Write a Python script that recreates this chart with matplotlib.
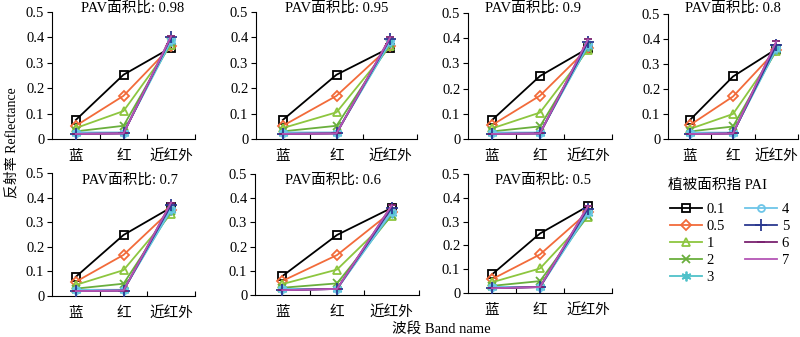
import numpy as np
import matplotlib
matplotlib.use('Agg')
import matplotlib.pyplot as plt

plt.rcParams['font.family'] = ['Liberation Serif', 'Noto Sans CJK SC']
plt.rcParams['axes.unicode_minus'] = False

bands = ['蓝', '红', '近红外']
pav_ratios = ['0.98', '0.95', '0.9', '0.8', '0.7', '0.6', '0.5']
pai_labels = ['0.1', '0.5', '1', '2', '3', '4', '5', '6', '7']

# reflectance per PAV panel, one row per PAI level (blue, red, nir)
refl_098 = [[0.075, 0.253, 0.360], [0.052, 0.170, 0.365], [0.043, 0.110, 0.370],
            [0.030, 0.052, 0.380], [0.025, 0.025, 0.385], [0.025, 0.025, 0.390],
            [0.020, 0.022, 0.400], [0.020, 0.022, 0.405], [0.020, 0.022, 0.405]]
refl_095 = [[0.075, 0.253, 0.360], [0.052, 0.170, 0.365], [0.043, 0.105, 0.365],
            [0.030, 0.052, 0.375], [0.025, 0.025, 0.380], [0.025, 0.025, 0.385],
            [0.020, 0.022, 0.395], [0.020, 0.022, 0.400], [0.020, 0.022, 0.400]]
refl_090 = [[0.075, 0.250, 0.360], [0.055, 0.172, 0.360], [0.042, 0.105, 0.355],
            [0.030, 0.050, 0.365], [0.025, 0.025, 0.370], [0.025, 0.025, 0.375],
            [0.020, 0.022, 0.385], [0.020, 0.022, 0.395], [0.020, 0.022, 0.395]]
refl_080 = [[0.075, 0.250, 0.360], [0.055, 0.170, 0.355], [0.040, 0.100, 0.350],
            [0.030, 0.050, 0.355], [0.025, 0.025, 0.360], [0.025, 0.025, 0.365],
            [0.020, 0.022, 0.375], [0.020, 0.022, 0.390], [0.020, 0.022, 0.390]]
refl_070 = [[0.078, 0.248, 0.360], [0.058, 0.167, 0.350], [0.045, 0.105, 0.335],
            [0.030, 0.050, 0.345], [0.025, 0.025, 0.350], [0.025, 0.025, 0.355],
            [0.020, 0.022, 0.370], [0.020, 0.022, 0.380], [0.020, 0.022, 0.380]]
refl_060 = [[0.078, 0.248, 0.360], [0.058, 0.165, 0.345], [0.045, 0.105, 0.325],
            [0.030, 0.048, 0.330], [0.025, 0.025, 0.340], [0.025, 0.025, 0.345],
            [0.020, 0.025, 0.360], [0.020, 0.025, 0.370], [0.020, 0.025, 0.370]]
refl_050 = [[0.078, 0.250, 0.365], [0.058, 0.162, 0.340], [0.045, 0.103, 0.320],
            [0.030, 0.050, 0.325], [0.025, 0.025, 0.335], [0.025, 0.025, 0.340],
            [0.020, 0.025, 0.355], [0.020, 0.025, 0.365], [0.020, 0.025, 0.365]]
all_refl = [refl_098, refl_095, refl_090, refl_080, refl_070, refl_060, refl_050]

colors = ['#000000', '#F26B3A', '#8DC63F', '#6AAF3D', '#4FC1C9',
          '#6DC5E8', '#2B3990', '#7A2270', '#B455B5']
markers = ['s', 'D', '^', 'x', (6, 2, 0), 'o', '+', '_', 'None']
msizes = [6, 5, 6, 6, 7, 5, 8, 6, 0]

W, H = 800, 337
fig = plt.figure(figsize=(8, 3.37), dpi=100)

# panel boxes in pixels: (left, right, top, bottom)
boxes = [(52, 195, 12, 139), (256, 417, 12, 139), (468, 612, 13, 139), (668, 798, 14, 139),
         (52, 195, 173, 296), (255, 419, 174, 295), (468, 612, 174, 293)]
# title centres in pixels
title_pos = [(133, 8), (337, 8), (533, 8), (733, 8), (130, 180), (333, 180), (543, 180)]

x = np.arange(len(bands))
handles = []
for k, (refl, ratio) in enumerate(zip(all_refl, pav_ratios)):
    l, r, t, b = boxes[k]
    ax = fig.add_axes([l / W, 1 - b / H, (r - l) / W, (b - t) / H])
    for i, row in enumerate(refl):
        ln, = ax.plot(x, row, color=colors[i], marker=markers[i], markersize=msizes[i],
                      markerfacecolor='none', markeredgewidth=1.3, linewidth=1.3,
                      label=pai_labels[i], zorder=2 + i)
        if k == 0:
            handles.append(ln)
    ax.set_xlim(-0.5, 2.5)
    ax.set_ylim(0, 0.5)
    ax.set_yticks([0, 0.1, 0.2, 0.3, 0.4, 0.5])
    ax.set_yticklabels(['0', '0.1', '0.2', '0.3', '0.4', '0.5'])
    ax.set_xticks(x)
    ax.set_xticklabels(bands)
    ax.set_xticks([0.5, 1.5, 2.5], minor=True)
    ax.tick_params(axis='x', which='major', length=0, labelsize=10.5, pad=8)
    ax.tick_params(axis='x', which='minor', direction='in', length=3.5, width=0.8)
    ax.tick_params(axis='y', direction='out', length=3.5, width=0.8, labelsize=10.5, pad=2)
    for s in ['top', 'right']:
        ax.spines[s].set_visible(False)
    for s in ['left', 'bottom']:
        ax.spines[s].set_linewidth(0.8)
    tx, ty = title_pos[k]
    fig.text(tx / W, 1 - ty / H, 'PAV面积比: ' + ratio, ha='center', va='center',
             fontsize=10.5)

fig.text(12 / W, 1 - 143 / H, '反射率 Reflectance', rotation=90, ha='center', va='center',
         fontsize=10)
fig.text(441 / W, 1 - 329 / H, '波段 Band name', ha='center', va='center', fontsize=10.5)

fig.text(668 / W, 1 - 185 / H, '植被面积指 PAI', ha='left', va='center', fontsize=10.5)
leg = fig.legend(handles=handles, loc='upper left', bbox_to_anchor=(670 / W, 1 - 203 / H),
                 ncol=2, frameon=False, fontsize=10.5, handlelength=2.2, labelspacing=0.25,
                 columnspacing=1.4, handletextpad=0.3, borderpad=0, borderaxespad=0)

fig.savefig('out.png', dpi=100)
